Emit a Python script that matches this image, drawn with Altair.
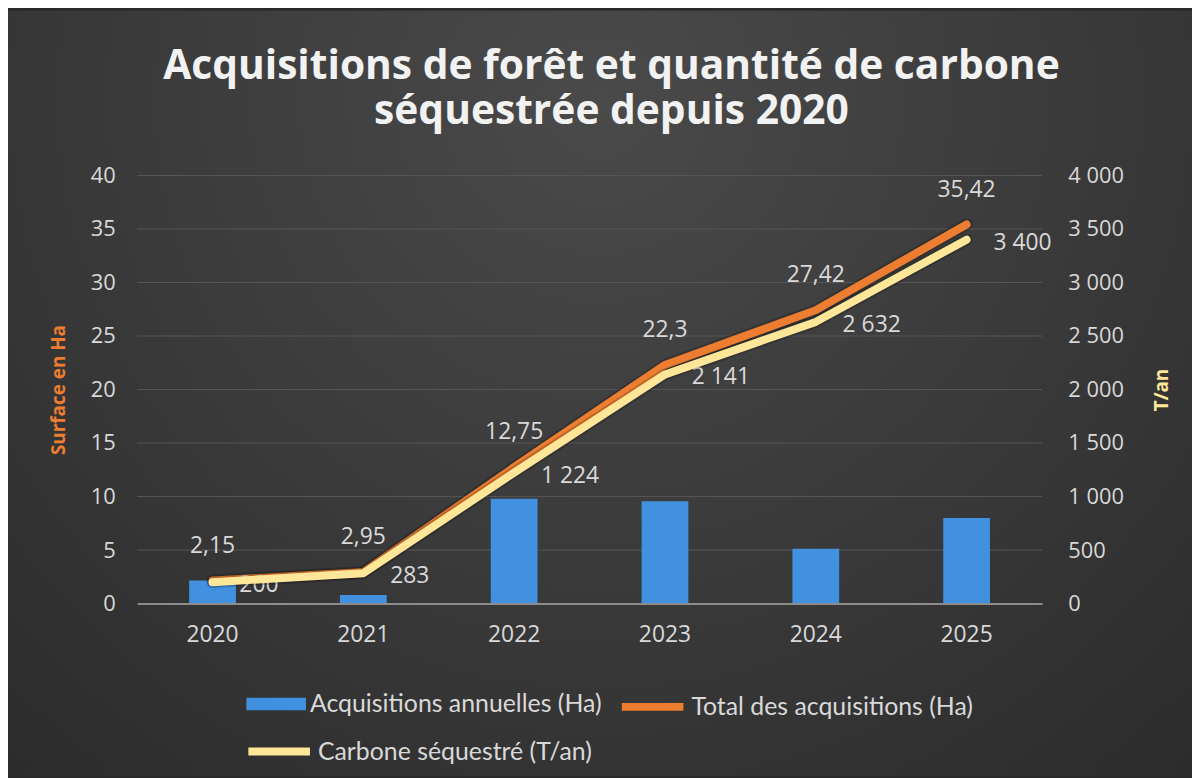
import altair as alt
import pandas as pd

# ---- data ----
years = ["2020", "2021", "2022", "2023", "2024", "2025"]
annual_ha = [2.15, 0.8, 9.8, 9.55, 5.12, 8.0]
total_ha = [2.15, 2.95, 12.75, 22.3, 27.42, 35.42]
carbon_t = [200, 283, 1224, 2141, 2632, 3400]

series_names = ["Acquisitions annuelles (Ha)", "Total des acquisitions (Ha)", "Carbone séquestré (T/an)"]
series_colors = ["#4191E0", "#ED7D31", "#FFE699"]

left_ticks = [0, 5, 10, 15, 20, 25, 30, 35, 40]
right_ticks = [0, 500, 1000, 1500, 2000, 2500, 3000, 3500, 4000]

title_lines = ["Acquisitions de forêt et quantité de carbone", "séquestrée depuis 2020"]
left_title = "Surface en Ha"
right_title = "T/an"

# ---- styling ----
TXT = "#d9d9d9"
FONT = "Open Sans"

df = pd.DataFrame({"year": years, "annual": annual_ha, "total": total_ha, "carbon": carbon_t})
grid_df = pd.DataFrame({"tick": left_ticks[1:]})

x_enc = alt.X(
    "year:N",
    scale=alt.Scale(paddingInner=0.69, paddingOuter=0.345),
    axis=alt.Axis(title=None, labelAngle=0, labelFont=FONT, labelFontSize=23, labelColor=TXT,
                  labelPadding=20, ticks=False, domain=True, domainColor="#8c8c8c",
                  domainWidth=2, grid=False, zindex=2),
)

left_scale = alt.Scale(domain=[0, 40], nice=False)
left_axis = alt.Axis(values=left_ticks, title=left_title, titleColor="#ED7D31", titleFont=FONT,
                     titleFontSize=19, titleFontWeight="bold", titlePadding=22,
                     labelFont=FONT, labelFontSize=22, labelColor=TXT, labelPadding=22,
                     ticks=False, domain=False, grid=False, zindex=2)
right_scale = alt.Scale(domain=[0, 4000], nice=False)
right_axis = alt.Axis(values=right_ticks, orient="right", title=right_title, titleColor="#FFE699",
                      titleFont=FONT, titleFontSize=19, titleFontWeight="bold", titlePadding=48,
                      titleAngle=270,
                      labelExpr="replace(format(datum.value, ','), ',', ' ')",
                      labelFont=FONT, labelFontSize=22, labelColor=TXT, labelPadding=26,
                      ticks=False, domain=False, grid=False, zindex=2)

LEG = dict(title=None, orient="none", labelFont="Lato", labelFontSize=25, labelColor=TXT,
           labelOffset=4, labelLimit=500, zindex=2, padding=0)

bar_legend = alt.Legend(legendX=110, legendY=502, symbolType="M-1,-0.21H1V0.21H-1Z",
                        symbolSize=3600, symbolStrokeWidth=0, **LEG)
total_legend = alt.Legend(legendX=484, legendY=500, symbolType="stroke", symbolSize=3844,
                          symbolStrokeWidth=8, **LEG)
carbon_legend = alt.Legend(legendX=108, legendY=545, symbolType="stroke", symbolSize=3844,
                           symbolStrokeWidth=8, **LEG)

bg = alt.Chart(alt.Data(values=[{}])).mark_rect(
    fill={"gradient": "radial",
          "stops": [{"offset": 0, "color": "#4a4a4a"}, {"offset": 1, "color": "#2a2a2a"}],
          "x1": 0.5, "y1": 0.25, "x2": 0.5, "y2": 0.25, "r1": 0, "r2": 0.8}
).encode(x=alt.value(-130), x2=alt.value(1062), y=alt.value(-166), y2=alt.value(604))

grid = alt.Chart(grid_df).mark_rule(color="#575757", strokeWidth=1).encode(
    y=alt.Y("tick:Q", scale=left_scale, axis=left_axis)
)

base = alt.Chart(df)

bars = base.transform_calculate(series=f"'{series_names[0]}'").mark_bar().encode(
    x=x_enc, y=alt.Y("annual:Q", scale=left_scale, axis=left_axis),
    color=alt.Color("series:N", scale=alt.Scale(domain=[series_names[0]], range=[series_colors[0]]),
                    legend=bar_legend)
)

total_shadow = base.mark_line(color="#000000", opacity=0.2, strokeWidth=12, strokeCap="round",
                              strokeJoin="round").encode(
    x=x_enc, y=alt.Y("total:Q", scale=left_scale, axis=left_axis)
)
total_line = base.transform_calculate(series=f"'{series_names[1]}'").mark_line(
    strokeWidth=8, strokeCap="round", strokeJoin="round").encode(
    x=x_enc, y=alt.Y("total:Q", scale=left_scale, axis=left_axis),
    stroke=alt.Stroke("series:N", scale=alt.Scale(domain=[series_names[1]], range=[series_colors[1]]),
                      legend=total_legend)
)
total_text = base.transform_calculate(lbl="replace(toString(datum.total), '.', ',')").mark_text(
    dy=-35, font=FONT, fontSize=23, color=TXT).encode(
    x=x_enc, y=alt.Y("total:Q", scale=left_scale, axis=left_axis), text="lbl:N"
)

carbon_text = base.transform_calculate(lbl="replace(format(datum.carbon, ','), ',', ' ')").mark_text(
    align="left", dx=27, dy=3, font=FONT, fontSize=23, color=TXT).encode(
    x=x_enc, y=alt.Y("carbon:Q", scale=right_scale, axis=right_axis), text="lbl:N"
)
carbon_shadow = base.mark_line(color="#000000", opacity=0.2, strokeWidth=12, strokeCap="round",
                               strokeJoin="round").encode(
    x=x_enc, y=alt.Y("carbon:Q", scale=right_scale, axis=right_axis)
)
carbon_line = base.transform_calculate(series=f"'{series_names[2]}'").mark_line(
    strokeWidth=8, strokeCap="round", strokeJoin="round").encode(
    x=x_enc, y=alt.Y("carbon:Q", scale=right_scale, axis=right_axis),
    stroke=alt.Stroke("series:N", scale=alt.Scale(domain=[series_names[2]], range=[series_colors[2]]),
                      legend=carbon_legend)
)

left = alt.layer(bg, grid, bars, total_shadow, total_line, total_text)
right = alt.layer(carbon_text, carbon_shadow, carbon_line)

chart = alt.layer(left, right).resolve_scale(
    y="independent", stroke="independent"
).resolve_legend(stroke="independent").properties(
    width=911, height=431,
    autosize="none",
    padding={"left": 130, "top": 166, "right": 151, "bottom": 173},
    title=alt.TitleParams(text=title_lines, font=FONT, fontSize=41, fontWeight="bold",
                          color="#f2f2f2", anchor="middle", frame="group", dx=22,
                          lineHeight=45, offset=-123, zindex=2),
).configure(background="#2a2a2a").configure_view(stroke=None)

chart.save("out.html", embed_options={"renderer": "svg", "actions": False})
